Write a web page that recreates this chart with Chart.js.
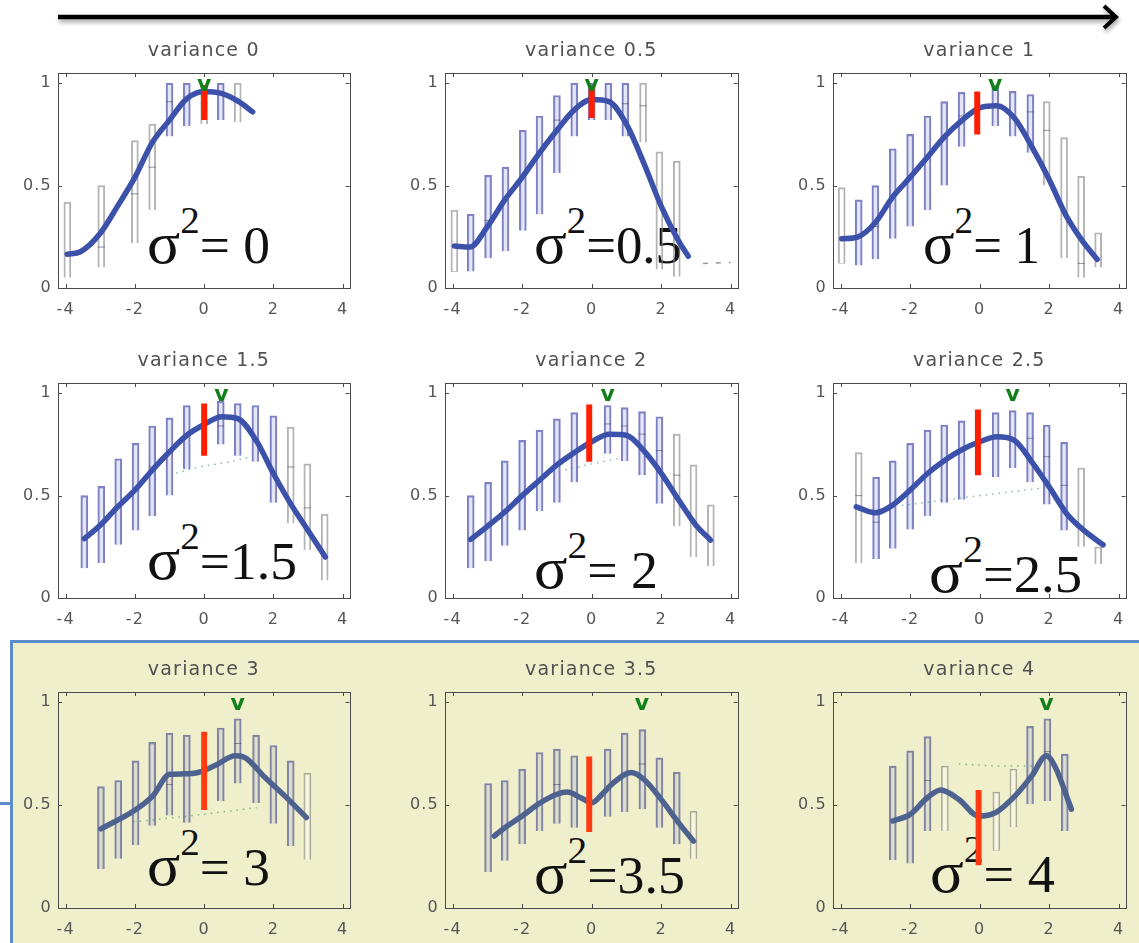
<!DOCTYPE html>
<html><head><meta charset="utf-8">
<script src="https://cdn.jsdelivr.net/npm/chart.js@4.4.1/dist/chart.umd.min.js"></script>
<style>
html,body{margin:0;padding:0;background:#fff;}
body{width:1139px;height:943px;position:relative;overflow:hidden;font-family:"DejaVu Sans",sans-serif;}
#beige{position:absolute;left:10px;top:640px;width:1129px;height:303px;background:#f0efcc;border-top:3px solid #5b8ccb;border-left:3px solid #5b8ccb;box-sizing:border-box;}
#stub{position:absolute;left:0;top:802px;width:12px;height:3px;background:#5b8ccb;}
#overlay{position:absolute;left:0;top:0;}
canvas{position:absolute;}
</style></head><body>
<div id="beige"></div><div id="stub"></div>
<svg id="overlay" width="1139" height="943" xmlns="http://www.w3.org/2000/svg"></svg>
<script>
// ---------- shared labels ----------
const xTicks = [-4, -2, 0, 2, 4];
const yTicks = [0, 0.5, 1];
const titles = ['variance 0','variance 0.5','variance 1','variance 1.5','variance 2','variance 2.5','variance 3','variance 3.5','variance 4'];
const sigmaText = ['= 0','=0.5','= 1','=1.5','= 2','=2.5','= 3','=3.5','= 4'];

// ---------- panel 0: variance 0 ----------
const box0X  = [-3.95,-2.97,-2.0,-1.5,-1.0,-0.5,0,0.48,0.97];
const box0Lo = [0.05,0.10,0.22,0.38,0.74,0.79,0.80,0.82,0.81];
const box0Hi = [0.42,0.50,0.72,0.80,1.0,1.0,0.99,1.0,1.0];
const box0Blue = [0,0,0,0,1,1,0,1,0];
const curve0X = [-3.95,-3.57,-3,-2.5,-2,-1.5,-1,-0.5,0,0.5,1,1.4];
const curve0Y = [0.165,0.177,0.267,0.40,0.54,0.71,0.82,0.925,0.96,0.95,0.91,0.86];
const red0 = [0,0.82,0.99]; const best0 = 0;
const med0X = [-2.97,-2.0,-1.5,-1.0,0]; const med0Y = [0.20,0.46,0.59,0.91,0.90];
const dot0X = []; const dot0Y = [];

// ---------- panel 1: variance 0.5 ----------
const box1X  = [-3.95,-3.48,-2.98,-2.48,-1.98,-1.5,-1.0,-0.5,0,0.48,0.97,1.48,1.95,2.45];
const box1Lo = [0.08,0.08,0.145,0.18,0.28,0.36,0.56,0.74,0.82,0.82,0.74,0.71,0.09,0.055];
const box1Hi = [0.38,0.36,0.55,0.59,0.77,0.84,0.94,1.0,1.0,1.0,1.0,1.0,0.665,0.62];
const box1Blue = [0,1,1,1,1,1,1,1,1,1,1,0,0,0];
const curve1X = [-3.95,-3.5,-3,-2.5,-2,-1.5,-1,-0.5,0,0.5,1,1.5,2,2.5,2.78];
const curve1Y = [0.205,0.2,0.30,0.43,0.54,0.66,0.77,0.87,0.92,0.91,0.80,0.61,0.40,0.23,0.155];
const red1 = [0,0.83,0.99]; const best1 = 0;
const med1X = [-2.98,-1.0,0.48,0.97,1.48]; const med1Y = [0.33,0.82,0.92,0.90,0.89];
const dot1X = [3.2,4.0]; const dot1Y = [0.12,0.125];

// ---------- panel 2: variance 1 ----------
const box2X  = [-3.97,-3.48,-3.0,-2.5,-2.0,-1.5,-1.02,-0.52,0.45,0.95,1.46,1.93,2.43,2.92,3.41];
const box2Lo = [0.12,0.11,0.14,0.24,0.30,0.38,0.50,0.69,0.79,0.74,0.66,0.50,0.145,0.05,0.10];
const box2Hi = [0.49,0.43,0.50,0.68,0.75,0.84,0.91,0.955,0.99,0.96,0.945,0.91,0.735,0.545,0.27];
const box2Blue = [0,1,1,1,1,1,1,1,1,1,1,0,0,0,0];
const curve2X = [-3.97,-3.5,-3,-2.5,-2,-1.5,-1,-0.5,0,0.5,1,1.5,2,2.5,3,3.38];
const curve2Y = [0.24,0.25,0.32,0.445,0.54,0.64,0.74,0.82,0.88,0.89,0.83,0.69,0.53,0.35,0.22,0.14];
const red2 = [-0.07,0.75,0.96]; const best2 = 0.45;
const med2X = [-3.0,-0.52,1.46,1.93,2.92]; const med2Y = [0.30,0.84,0.86,0.77,0.12];
const dot2X = []; const dot2Y = [];

// ---------- panel 3: variance 1.5 ----------
const box3X  = [-3.46,-2.97,-2.48,-1.98,-1.5,-1.0,-0.5,0.48,0.97,1.48,2.0,2.5,2.98,3.48];
const box3Lo = [0.145,0.17,0.26,0.33,0.40,0.50,0.63,0.75,0.695,0.665,0.465,0.365,0.235,0.085];
const box3Hi = [0.50,0.545,0.68,0.755,0.84,0.88,0.94,0.96,0.95,0.94,0.89,0.835,0.655,0.41];
const box3Blue = [1,1,1,1,1,1,1,1,1,1,1,0,0,0];
const curve3X = [-3.46,-3,-2.5,-2,-1.5,-1,-0.5,0,0.5,0.97,1.5,2,2.5,3,3.5];
const curve3Y = [0.29,0.355,0.445,0.527,0.624,0.714,0.795,0.847,0.885,0.876,0.77,0.608,0.46,0.33,0.20];
const red3 = [0,0.695,0.95]; const best3 = 0.5;
const med3X = [-1.5,0.48,2.5,2.98]; const med3Y = [0.64,0.84,0.64,0.44];
const dot3X = [-0.81,-0.15,0.6,1.38]; const dot3Y = [0.61,0.64,0.66,0.69];

// ---------- panel 4: variance 2 ----------
const box4X  = [-3.48,-2.98,-2.5,-2.0,-1.5,-1.0,-0.5,0.46,0.95,1.45,1.95,2.45,2.93,3.43];
const box4Lo = [0.145,0.18,0.255,0.33,0.425,0.465,0.565,0.705,0.668,0.60,0.46,0.35,0.20,0.155];
const box4Hi = [0.50,0.565,0.67,0.77,0.82,0.875,0.905,0.94,0.93,0.91,0.885,0.80,0.65,0.455];
const box4Blue = [1,1,1,1,1,1,1,1,1,1,1,0,0,0];
const curve4X = [-3.48,-3,-2.5,-2,-1.5,-1,-0.5,0,0.5,1,1.5,2,2.5,3,3.42];
const curve4Y = [0.286,0.35,0.42,0.50,0.575,0.65,0.71,0.763,0.80,0.795,0.72,0.61,0.48,0.356,0.283];
const red4 = [-0.07,0.665,0.945]; const best4 = 0.46;
const med4X = [0.46,0.95,1.45,1.95,2.45]; const med4Y = [0.85,0.84,0.80,0.72,0.60];
const dot4X = [-0.76,0,0.76]; const dot4Y = [0.626,0.655,0.68];

// ---------- panel 5: variance 2.5 ----------
const box5X  = [-3.48,-2.98,-2.5,-2.0,-1.5,-1.02,-0.52,0.46,0.95,1.45,1.93,2.43,2.92,3.41];
const box5Lo = [0.17,0.19,0.24,0.335,0.40,0.465,0.48,0.59,0.635,0.565,0.457,0.33,0.25,0.165];
const box5Hi = [0.71,0.59,0.67,0.755,0.82,0.845,0.865,0.905,0.915,0.905,0.845,0.76,0.635,0.25];
const box5Blue = [0,1,1,1,1,1,1,1,1,1,1,1,0,0];
const curve5X = [-3.55,-3,-2.5,-2,-1.5,-1,-0.5,0,0.5,1,1.5,2,2.5,3,3.55];
const curve5Y = [0.445,0.416,0.454,0.527,0.608,0.673,0.725,0.763,0.787,0.77,0.665,0.543,0.413,0.33,0.26];
const red5 = [-0.05,0.60,0.92]; const best5 = 0.95;
const med5X = [-3.48,-2.98,1.45,1.93,2.43]; const med5Y = [0.50,0.37,0.78,0.69,0.55];
const dot5X = [-2.24,0,2.19]; const dot5Y = [0.452,0.50,0.545];

// ---------- panel 6: variance 3 ----------
const box6X  = [-2.98,-2.48,-1.98,-1.5,-1.0,-0.5,0.48,0.97,1.5,2.0,2.5,2.98];
const box6Lo = [0.19,0.24,0.305,0.40,0.45,0.415,0.52,0.605,0.51,0.41,0.30,0.235];
const box6Hi = [0.59,0.62,0.715,0.805,0.85,0.84,0.875,0.92,0.84,0.79,0.715,0.655];
const box6Blue = [1,1,1,1,1,1,1,1,1,1,1,0];
const curve6X = [-2.98,-2.05,-1.48,-1.0,-0.6,-0.15,0.33,0.9,1.19,1.76,2.43,2.95];
const curve6Y = [0.385,0.47,0.545,0.65,0.652,0.66,0.694,0.74,0.73,0.634,0.528,0.44];
const red6 = [0,0.476,0.857]; const best6 = 0.97;
const med6X = [-1.0,0.97]; const med6Y = [0.60,0.80];
const dot6X = [-2.05,-0.3,1.52]; const dot6Y = [0.418,0.45,0.488];

// ---------- panel 7: variance 3.5 ----------
const box7X  = [-2.98,-2.5,-2.0,-1.5,-1.0,-0.5,0.46,0.95,1.46,1.95,2.45,2.93];
const box7Lo = [0.175,0.23,0.31,0.374,0.41,0.39,0.444,0.467,0.48,0.39,0.31,0.24];
const box7Hi = [0.605,0.62,0.675,0.756,0.772,0.74,0.772,0.85,0.867,0.73,0.66,0.47];
const box7Blue = [1,1,1,1,1,1,1,1,1,1,1,0];
const curve7X = [-2.8,-2.5,-2,-1.5,-1,-0.7,-0.3,0,0.3,0.6,1.14,1.5,2,2.5,2.93];
const curve7Y = [0.35,0.39,0.447,0.509,0.553,0.564,0.535,0.512,0.553,0.605,0.659,0.626,0.528,0.415,0.325];
const red7 = [-0.07,0.37,0.737]; const best7 = 1.45;
const med7X = [-1.0,1.46]; const med7Y = [0.60,0.70];
const dot7X = []; const dot7Y = [];

// ---------- panel 8: variance 4 ----------
const box8X  = [-2.5,-2.0,-1.5,-1.0,0.48,0.97,1.45,1.95,2.45];
const box8Lo = [0.233,0.216,0.374,0.374,0.28,0.393,0.504,0.52,0.374];
const box8Hi = [0.69,0.764,0.833,0.69,0.564,0.675,0.883,0.92,0.748];
const box8Blue = [1,1,1,0,0,0,1,1,1];
const curve8X = [-2.5,-2.0,-1.5,-1.12,-0.6,-0.03,0.45,1.02,1.5,1.92,2.16,2.64];
const curve8Y = [0.423,0.455,0.537,0.574,0.528,0.447,0.463,0.545,0.642,0.74,0.69,0.48];
const red8 = [-0.03,0.208,0.574]; const best8 = 1.92;
const med8X = [-1.5,1.95]; const med8Y = [0.62,0.76];
const dot8X = [-0.6,0.5,1.5]; const dot8Y = [0.70,0.69,0.69];

// ---------- assemble ----------
const panels = [
  {boxX:box0X,boxLo:box0Lo,boxHi:box0Hi,boxBlue:box0Blue,curveX:curve0X,curveY:curve0Y,red:red0,best:best0,medX:med0X,medY:med0Y,dotX:dot0X,dotY:dot0Y},
  {boxX:box1X,boxLo:box1Lo,boxHi:box1Hi,boxBlue:box1Blue,curveX:curve1X,curveY:curve1Y,red:red1,best:best1,medX:med1X,medY:med1Y,dotX:dot1X,dotY:dot1Y},
  {boxX:box2X,boxLo:box2Lo,boxHi:box2Hi,boxBlue:box2Blue,curveX:curve2X,curveY:curve2Y,red:red2,best:best2,medX:med2X,medY:med2Y,dotX:dot2X,dotY:dot2Y},
  {boxX:box3X,boxLo:box3Lo,boxHi:box3Hi,boxBlue:box3Blue,curveX:curve3X,curveY:curve3Y,red:red3,best:best3,medX:med3X,medY:med3Y,dotX:dot3X,dotY:dot3Y},
  {boxX:box4X,boxLo:box4Lo,boxHi:box4Hi,boxBlue:box4Blue,curveX:curve4X,curveY:curve4Y,red:red4,best:best4,medX:med4X,medY:med4Y,dotX:dot4X,dotY:dot4Y},
  {boxX:box5X,boxLo:box5Lo,boxHi:box5Hi,boxBlue:box5Blue,curveX:curve5X,curveY:curve5Y,red:red5,best:best5,medX:med5X,medY:med5Y,dotX:dot5X,dotY:dot5Y},
  {boxX:box6X,boxLo:box6Lo,boxHi:box6Hi,boxBlue:box6Blue,curveX:curve6X,curveY:curve6Y,red:red6,best:best6,medX:med6X,medY:med6Y,dotX:dot6X,dotY:dot6Y},
  {boxX:box7X,boxLo:box7Lo,boxHi:box7Hi,boxBlue:box7Blue,curveX:curve7X,curveY:curve7Y,red:red7,best:best7,medX:med7X,medY:med7Y,dotX:dot7X,dotY:dot7Y},
  {boxX:box8X,boxLo:box8Lo,boxHi:box8Hi,boxBlue:box8Blue,curveX:curve8X,curveY:curve8Y,red:red8,best:best8,medX:med8X,medY:med8Y,dotX:dot8X,dotY:dot8Y}
];

// ---------- layout ----------
const colPlot = [[58,352],[445,740],[833,1128]];
const rowPlot = [[73,288],[383,598],[692,908]];
const sigmaPos = [[147,263,123],[534,263,148],[923,263,117],[147,579,150],[534,588,124],[929,592,153],[147,885,123],[534,893,151],[930,892,125]];

// ---------- SVG overlay: arrow + sigma labels ----------
const NS = 'http://www.w3.org/2000/svg';
const svg = document.getElementById('overlay');
const g = document.createElementNS(NS,'g');
g.setAttribute('style','filter: drop-shadow(1px 3px 2px rgba(0,0,0,0.35))');
const ln = document.createElementNS(NS,'line');
ln.setAttribute('x1',58); ln.setAttribute('y1',17); ln.setAttribute('x2',1114); ln.setAttribute('y2',17);
ln.setAttribute('stroke','#000'); ln.setAttribute('stroke-width',4.5);
g.appendChild(ln);
const hd = document.createElementNS(NS,'polyline');
hd.setAttribute('points','1104,6 1116,17 1104,28');
hd.setAttribute('fill','none'); hd.setAttribute('stroke','#000'); hd.setAttribute('stroke-width',4);
g.appendChild(hd);
svg.appendChild(g);

sigmaPos.forEach(([x,y,w],i)=>{
  const t = document.createElementNS(NS,'text');
  t.setAttribute('x',x); t.setAttribute('y',y);
  t.setAttribute('textLength',w); t.setAttribute('lengthAdjust','spacingAndGlyphs');
  t.setAttribute('font-family','"Liberation Serif","DejaVu Serif",serif');
  t.setAttribute('fill','#111');
  const s1 = document.createElementNS(NS,'tspan'); s1.setAttribute('font-size',60); s1.textContent='σ';
  const s2 = document.createElementNS(NS,'tspan'); s2.setAttribute('font-size',38); s2.setAttribute('dy',-30); s2.textContent='2';
  const s3 = document.createElementNS(NS,'tspan'); s3.setAttribute('font-size',52); s3.setAttribute('dy',30); s3.textContent=sigmaText[i];
  t.appendChild(s1); t.appendChild(s2); t.appendChild(s3);
  svg.appendChild(t);
});

// ---------- plugins ----------
const spacingPlugin = {
  id:'spacing',
  beforeDraw(chart){ if ('letterSpacing' in chart.ctx) chart.ctx.letterSpacing = '1.2px'; }
};
const framePlugin = {
  id:'frame',
  beforeDatasetsDraw(chart){
    const {ctx, chartArea:a, scales} = chart;
    ctx.save();
    ctx.strokeStyle = '#4a4a4a'; ctx.lineWidth = 1;
    ctx.strokeRect(Math.round(a.left)+0.5, Math.round(a.top)+0.5, Math.round(a.right-a.left), Math.round(a.bottom-a.top));
    ctx.beginPath();
    xTicks.forEach(v=>{
      const px = Math.round(scales.x.getPixelForValue(v))+0.5;
      ctx.moveTo(px,a.bottom); ctx.lineTo(px,a.bottom-4);
      ctx.moveTo(px,a.top); ctx.lineTo(px,a.top+4);
    });
    yTicks.forEach(v=>{
      const py = Math.round(scales.y.getPixelForValue(v))+0.5;
      ctx.moveTo(a.left,py); ctx.lineTo(a.left+4,py);
      ctx.moveTo(a.right,py); ctx.lineTo(a.right-4,py);
    });
    ctx.stroke();
    ctx.restore();
  }
};
const markPlugin = {
  id:'bestMark',
  afterDatasetsDraw(chart, args, opts){
    const {ctx, scales} = chart;
    const px = scales.x.getPixelForValue(opts.x);
    const py = scales.y.getPixelForValue(opts.y);
    ctx.save();
    if ('letterSpacing' in ctx) ctx.letterSpacing = '0px';
    ctx.fillStyle = '#12801a';
    ctx.font = 'bold 22px "DejaVu Sans", sans-serif';
    ctx.textAlign = 'center'; ctx.textBaseline = 'alphabetic';
    ctx.fillText('v', px, py + 6);
    ctx.restore();
  }
};

// ---------- build charts ----------
panels.forEach((P,i)=>{
  const r = Math.floor(i/3), c = i%3;
  const [pL,pR] = colPlot[c], [pT,pB] = rowPlot[r];
  const W = pR-pL+66, H = pB-pT+77;
  const cv = document.createElement('canvas');
  cv.width = W; cv.height = H;
  cv.style.left = (pL-58)+'px'; cv.style.top = (pT-45)+'px';
  cv.style.width = W+'px'; cv.style.height = H+'px';
  document.body.appendChild(cv);
  const muted = r===2;
  const blueData = [], grayData = [];
  P.boxX.forEach((x,k)=>{ (P.boxBlue[k] ? blueData : grayData).push({x:x, y:[P.boxLo[k], P.boxHi[k]]}); });
  const datasets = [
    {type:'line', label:'selected', data:[{x:P.red[0],y:P.red[1]},{x:P.red[0],y:P.red[2]}],
     borderColor: muted ? '#ff3b12' : '#ff1e00', borderWidth:6, pointRadius:0, borderCapStyle:'butt', order:0},
    {type:'line', label:'fit', data:P.curveX.map((x,k)=>({x:x,y:P.curveY[k]})),
     borderColor: muted ? '#4e628f' : '#3c51a9', borderWidth:5.5, pointRadius:0,
     cubicInterpolationMode:'monotone', borderCapStyle:'round', borderJoinStyle:'round', order:1},
    {type:'line', label:'median', data:P.medX.map((x,k)=>({x:x,y:P.medY[k]})), showLine:false,
     pointStyle:'line', pointRadius:3.5, pointBorderWidth:1, pointBorderColor:'rgba(60,60,90,0.55)', order:2},
    {type:'line', label:'quantile', data:P.dotX.map((x,k)=>({x:x,y:P.dotY[k]})), pointRadius:0,
     borderColor: i===1 ? 'rgba(80,80,80,0.6)' : 'rgba(50,130,90,0.55)', borderWidth:1.5, borderDash: i===1 ? [5,8] : [1.5,5], order:3},
    {type:'bar', label:'boxes', data:blueData, grouped:false, barThickness:7,
     backgroundColor: muted ? 'rgba(165,168,200,0.25)' : 'rgba(150,155,215,0.25)',
     borderColor: muted ? 'rgba(100,105,150,0.8)' : 'rgba(75,80,172,0.72)', borderWidth:1.5, order:4},
    {type:'bar', label:'boxes out', data:grayData, grouped:false, barThickness:7,
     backgroundColor: muted ? 'rgba(255,255,245,0.45)' : 'rgba(255,255,255,0)',
     borderColor: muted ? 'rgba(140,140,125,0.7)' : 'rgba(130,130,130,0.6)', borderWidth:1.3, order:5}
  ];
  new Chart(cv, {
    type:'bar',
    data:{datasets},
    options:{
      responsive:false, animation:false, devicePixelRatio:1,
      layout:{padding:{left:0,right:8,top:14,bottom:0}},
      plugins:{
        legend:{display:false}, tooltip:{enabled:false},
        title:{display:true, fullSize:false, text:titles[i], color:'#505050',
               font:{family:'"DejaVu Sans", sans-serif', size:19, weight:'normal', lineHeight:1},
               padding:{top:0,bottom:12}},
        bestMark:{x:P.best, y:0.99}
      },
      scales:{
        x:{type:'linear', min:-4.22, max:4.2, offset:false,
           afterBuildTicks:s=>{ s.ticks = xTicks.map(v=>({value:v})); },
           afterFit:s=>{ s.height = 32; },
           grid:{display:false, drawTicks:false}, border:{display:false},
           ticks:{padding:12, color:'#555', font:{family:'"DejaVu Sans", sans-serif', size:16}, callback:v=>String(v), maxRotation:0, autoSkip:false}},
        y:{type:'linear', min:0, max:1.05,
           afterBuildTicks:s=>{ s.ticks = yTicks.map(v=>({value:v})); },
           afterFit:s=>{ s.width = 58; },
           grid:{display:false, drawTicks:false}, border:{display:false},
           ticks:{padding:6, color:'#555', font:{family:'"DejaVu Sans", sans-serif', size:16}, callback:v=>String(v), autoSkip:false}}
      }
    },
    plugins:[spacingPlugin, framePlugin, markPlugin]
  });
});
</script>
</body></html>
